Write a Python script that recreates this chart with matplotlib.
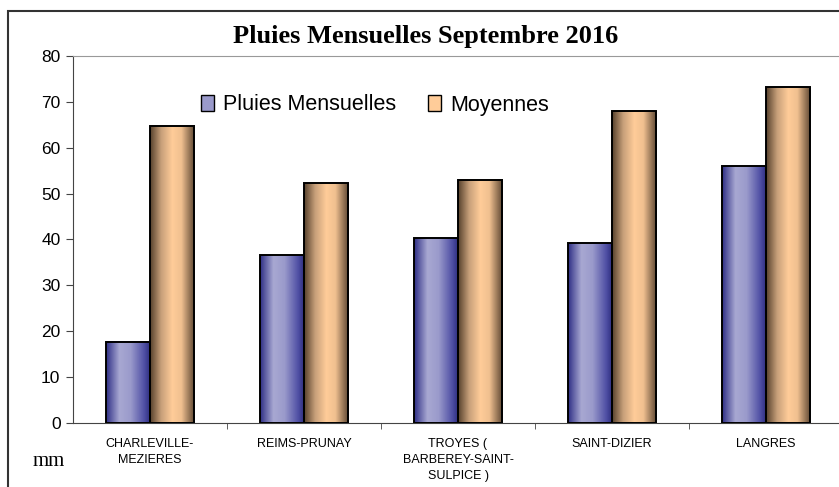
import numpy as np
import matplotlib
matplotlib.use("Agg")
import matplotlib.pyplot as plt
from matplotlib.patches import Rectangle, Patch
from matplotlib.colors import LinearSegmentedColormap

stations = ["CHARLEVILLE-\nMEZIERES", "REIMS-PRUNAY", "TROYES (\nBARBEREY-SAINT-\nSULPICE )",
            "SAINT-DIZIER", "LANGRES"]
pluies = [17.7, 36.6, 40.3, 39.2, 56.0]
moyennes = [64.8, 52.3, 53.0, 68.0, 73.2]

# cylinder-like shading, left to right
blue_cm = LinearSegmentedColormap.from_list(
    "b", [(0, "#2e2e85"), (0.3, "#a8a8d2"), (0.55, "#9a9acb"), (0.85, "#5050a5"), (1, "#2a2a7a")])
orange_cm = LinearSegmentedColormap.from_list(
    "o", [(0, "#55402c"), (0.25, "#c8a07a"), (0.5, "#ffcc99"), (0.7, "#f0c090"), (1, "#5a4430")])

W, H = 839, 487
fig = plt.figure(figsize=(W / 100, H / 100), dpi=100)
ax = fig.add_axes([73 / W, (H - 423) / H, 770 / W, (423 - 56) / H])

grad = np.linspace(0, 1, 256).reshape(1, -1)
bw = 0.286
x = np.arange(len(stations))
for i in x:
    for val, off, cm in ((pluies[i], -bw / 2, blue_cm), (moyennes[i], bw / 2, orange_cm)):
        x0 = i + off - bw / 2
        ax.imshow(grad, cmap=cm, extent=[x0, x0 + bw, 0, val], aspect="auto", zorder=2)
        ax.add_patch(Rectangle((x0, 0), bw, val, fill=False, edgecolor="black", lw=1.4, zorder=3))

ax.set_xlim(-0.5, len(stations) - 0.5)
ax.set_ylim(0, 80)
ax.set_yticks(range(0, 81, 10))
ax.set_xticks(x)
ax.set_xticklabels(stations, fontsize=9, family="Liberation Sans", linespacing=1.45)
ax.set_xticks(np.arange(0.5, len(stations) - 0.5, 1), minor=True)
ax.tick_params(axis="x", which="major", length=0, pad=11)
ax.tick_params(axis="x", which="minor", length=4, direction="out", color="#444")
ax.tick_params(axis="y", length=5, direction="out", labelsize=12.5, color="#444", pad=4)
for t in ax.get_yticklabels():
    t.set_family("Liberation Sans")

ax.spines["right"].set_visible(False)
ax.spines["top"].set_color("#999999")
ax.spines["left"].set_color("#444444")
ax.spines["bottom"].set_color("#444444")

handles = [Patch(facecolor="#9a9acb", edgecolor="black", label="Pluies Mensuelles"),
           Patch(facecolor="#ffcc99", edgecolor="black", label="Moyennes")]
fig.legend(handles=handles, loc="center left", bbox_to_anchor=(182 / W, 1 - 105 / H), ncol=2,
           frameon=False, prop={"family": "Liberation Sans", "size": 15.5},
           handlelength=0.6, handleheight=0.8, handletextpad=0.4, columnspacing=1.5)

fig.text(426 / W, 1 - 36 / H, "Pluies Mensuelles Septembre 2016", ha="center", va="center",
         family="Liberation Serif", fontweight="bold", fontsize=19)
fig.text(49 / W, 1 - 462 / H, "mm", ha="center", va="center", family="Liberation Serif", fontsize=15)

fig.patches.append(Rectangle((8 / W, -0.05), 1.0, 1 - 11 / H + 0.05, transform=fig.transFigure,
                             fill=False, edgecolor="#333333", lw=1.5))

fig.savefig("out.png", dpi=100)
